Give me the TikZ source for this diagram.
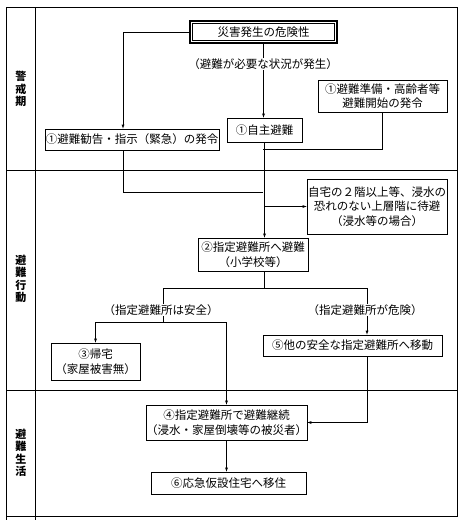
\documentclass[tikz,border=0pt]{standalone}
\usepackage{fontspec}
\newfontfamily\jp{Noto Sans CJK JP}
\begin{document}
\begin{tikzpicture}[x=1pt,y=-1pt,font=\jp\fontsize{11.5}{14.5}\selectfont]
	\tikzset{>=latex}
	\tikzset{box/.style={draw,line width=0.7pt,inner sep=0pt,align=center},
		cond/.style={fill=white,inner sep=1pt},
		phase/.style={font=\jp\bfseries\fontsize{11}{12.5}\selectfont,align=center}}
	\useasboundingbox (0,0) rectangle (465,522);

	% table
	\draw[line width=0.7pt] (6,7) rectangle (457,516);
	\draw[line width=0.7pt] (35,7) -- (35,520);
	\draw[line width=0.7pt] (6,516) -- (6,520);
	\draw[line width=0.7pt] (6,170) -- (457,170);
	\draw[line width=0.7pt] (6,390) -- (457,390);
	\node[phase] (p1) at (21,89) {警\\戒\\期};
	\node[phase] (p2) at (21,279) {避\\難\\行\\動};
	\node[phase] (p3) at (21,453) {避\\難\\生\\活};

	% boxes
	\node[box,line width=1.2pt,minimum width=147pt,minimum height=22pt] (danger) at (263.5,32) {災害発生の危険性};
	\draw[line width=0.6pt] ([shift={(3pt,-3pt)}]danger.north west) rectangle ([shift={(-3pt,3pt)}]danger.south east);
	\node[box,minimum width=129pt,minimum height=32pt] (junbi) at (382.5,96) {①避難準備・高齢者等\\避難開始の発令};
	\node[box,minimum width=75pt,minimum height=24pt] (jishu) at (264.5,130) {①自主避難};
	\node[box,minimum width=174pt,minimum height=21pt] (kankoku) at (132,139.5) {①避難勧告・指示（緊急）の発令};
	\node[box,minimum width=140pt,minimum height=55pt] (jitaku) at (377,206.5) {自宅の２階以上等、浸水の\\恐れのない上層階に待避\\（浸水等の場合）};
	\node[box,minimum width=110pt,minimum height=33pt] (shitei) at (253,254.5) {②指定避難所へ避難\\（小学校等）};
	\node[box,minimum width=89pt,minimum height=37pt] (kitaku) at (95.5,361.5) {③帰宅\\（家屋被害無）};
	\node[box,minimum width=179pt,minimum height=21pt] (ido) at (352.5,345.5) {⑤他の安全な指定避難所へ移動};
	\node[box,minimum width=161pt,minimum height=35pt] (keizoku) at (226.5,422.5) {④指定避難所で避難継続\\（浸水・家屋倒壊等の被災者）};
	\node[box,minimum width=155pt,minimum height=22pt] (ijuu) at (228.5,483) {⑥応急仮設住宅へ移住};

	% connectors
	\coordinate (j1) at (263,149);
	\coordinate (j2) at (263,192);
	\coordinate (lb) at (163,288);
	\coordinate (rb) at (367,288);
	\coordinate (lk) at (163,322);
	\draw[->] (danger.west) -| ([xshift=-9pt]kankoku.north);
	\draw[->] (danger.south) -- (danger.south |- jishu.north);
	\node[cond] (c1) at (263,64) {（避難が必要な状況が発生）};
	\draw (junbi.south) |- (j1);
	\draw ([xshift=-9pt]kankoku.south) |- (j2);
	\draw[->] (jishu.south) -- (jishu.south |- shitei.north);
	\draw[->] (jishu.south |- jitaku.west) -- (jitaku.west);
	\draw (jishu.south |- shitei.south) -- (jishu.south |- lb);
	\draw (lb) -- (rb);
	\draw (lb) -- (lk);
	\draw[->] (kitaku.north |- lk) -- (kitaku.north);
	\draw (kitaku.north |- lk) -- (keizoku.north |- lk);
	\draw[->] (keizoku.north |- lk) -- (keizoku.north);
	\draw[->] (rb) -- (rb |- ido.north);
	\node[cond] (c2) at (161,310) {（指定避難所は安全）};
	\node[cond] (c3) at (365,310) {（指定避難所が危険）};
	\draw[->] (rb |- ido.south) |- (keizoku.east);
	\draw[->] (keizoku.south) -- (keizoku.south |- ijuu.north);
\end{tikzpicture}
\end{document}
